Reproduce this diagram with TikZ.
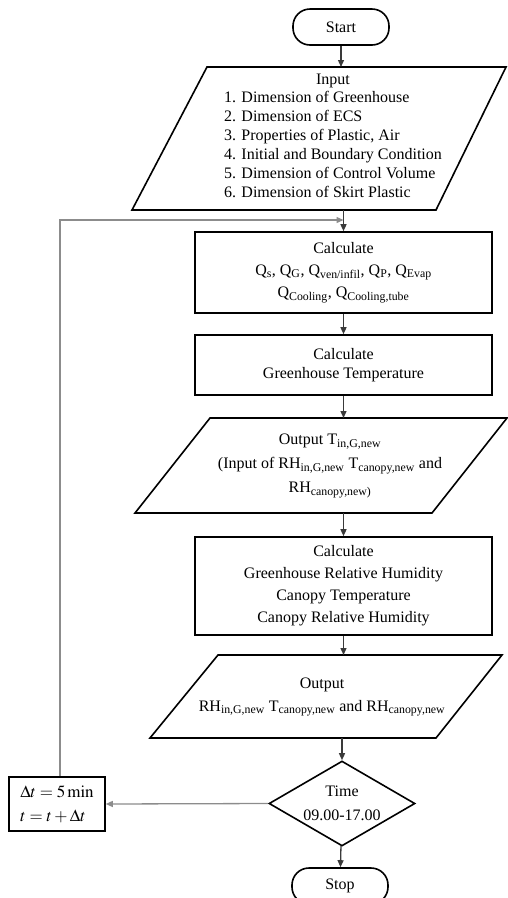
\documentclass[tikz,border=0pt]{standalone}
\usepackage{mathptmx}
\usepackage{fontspec}
\setmainfont{Liberation Serif}
\usetikzlibrary{positioning,arrows.meta,shapes.geometric}
\definecolor{flowgrey}{HTML}{3A3A3A}
\definecolor{loopgrey}{HTML}{8C8C8C}

\begin{document}
\begin{tikzpicture}[x=1pt, y=-1pt,
    every node/.style={font=\fontsize{16}{19}\selectfont, align=center},
    terminal/.style={draw, line width=1.6pt, rounded corners=17pt,
      minimum width=96pt, minimum height=36pt, inner sep=0pt},
    process/.style={draw, line width=1.6pt, minimum width=297pt, inner sep=0pt},
    ioline/.style={draw, line width=1.6pt, line join=miter},
    decision/.style={draw, line width=1.6pt, diamond, aspect=1.7, inner sep=0pt,
      minimum width=146pt, minimum height=85pt},
    flow/.style={-{Triangle[length=7pt, width=6pt]}, line width=1.3pt, flowgrey},
    loopback/.style={-{Triangle[length=7pt, width=6pt]}, line width=1.3pt, loopgrey}
  ]
  \useasboundingbox (0,0) rectangle (508,898);

  \node[terminal] (start) at (341,27) {Start};

  % input parallelogram
  \coordinate (inpTL) at (207,67);  \coordinate (inpTR) at (506,67);
  \coordinate (inpBR) at (436,210); \coordinate (inpBL) at (132,210);
  \draw[ioline] (inpTL) -- (inpTR) -- (inpBR) -- (inpBL) -- cycle;
  \node (inp) at (333,138.5) {Input\\
      \begin{tabular}{@{}l@{}}
        1. Dimension of Greenhouse\\
        2. Dimension of ECS\\
        3. Properties of Plastic, Air\\
        4. Initial and Boundary Condition\\
        5. Dimension of Control Volume\\
        6. Dimension of Skirt Plastic
      \end{tabular}};

  \node[process, minimum height=81pt] (calcq) at (343.5,272.5)
    {Calculate\\[3pt]
     Q\textsubscript{s}, Q\textsubscript{G}, Q\textsubscript{ven/infil}, Q\textsubscript{P}, Q\textsubscript{Evap}\\[3pt]
     Q\textsubscript{Cooling}, Q\textsubscript{Cooling,tube}};
  \node[process, minimum height=60pt] (calct) at (343.5,365)
    {Calculate\\Greenhouse Temperature};

  % output of temperature
  \coordinate (outtTL) at (210,418); \coordinate (outtTR) at (507,418);
  \coordinate (outtBR) at (432,513); \coordinate (outtBL) at (135,513);
  \draw[ioline] (outtTL) -- (outtTR) -- (outtBR) -- (outtBL) -- cycle;
  \node (outt) at (330,466) {Output T\textsubscript{in,G,new}\\[5pt]
      (Input of RH\textsubscript{in,G,new} T\textsubscript{canopy,new} and\\[5pt]
      RH\textsubscript{canopy,new)}};

  \node[process, minimum height=98pt] (calch) at (343.5,586)
    {Calculate\\[3pt]Greenhouse Relative Humidity\\[3pt]Canopy Temperature\\[3pt]Canopy Relative Humidity};

  % output of humidity
  \coordinate (outhTL) at (218,655); \coordinate (outhTR) at (502,655);
  \coordinate (outhBR) at (436,738); \coordinate (outhBL) at (150,738);
  \draw[ioline] (outhTL) -- (outhTR) -- (outhBR) -- (outhBL) -- cycle;
  \node (outh) at (322,697) {Output\\[4pt]
      RH\textsubscript{in,G,new} T\textsubscript{canopy,new} and RH\textsubscript{canopy,new}};

  \node[decision] (time) at (342,803.5) {Time\\[5pt]09.00-17.00};
  \node[terminal] (stop) at (340,886) {Stop};
  \node[draw, line width=1.6pt, minimum width=96pt, minimum height=54pt,
    align=left, inner sep=0pt, font=\fontsize{17}{20}\selectfont] (deltabox) at (57,804)
    {$\Delta t = 5\,\mathrm{min}$\\[4pt]$t = t + \Delta t$\hfill\null};
  \coordinate (merge) at (343.5,220);

  % main line, top to bottom
  \draw[flow] (start.south) -- (start.south |- inpTL);
  \draw[flow] (calcq.north |- inpBL) -- (calcq.north);
  \draw[flow] (calcq) -- (calct);
  \draw[flow] (calct.south) -- (calct.south |- outtTL);
  \draw[flow] (calch.north |- outtBL) -- (calch.north);
  \draw[flow] (calch.south) -- (calch.south |- outhTL);
  \draw[flow] (time.north |- outhBL) -- (time.north);
  \draw[flow] (time) -- (stop);

  % time loop
  \draw[loopback] (time.west) -- (deltabox.east);
  \draw[loopback] ([xshift=3pt]deltabox.north) |- (merge);
\end{tikzpicture}
\end{document}
